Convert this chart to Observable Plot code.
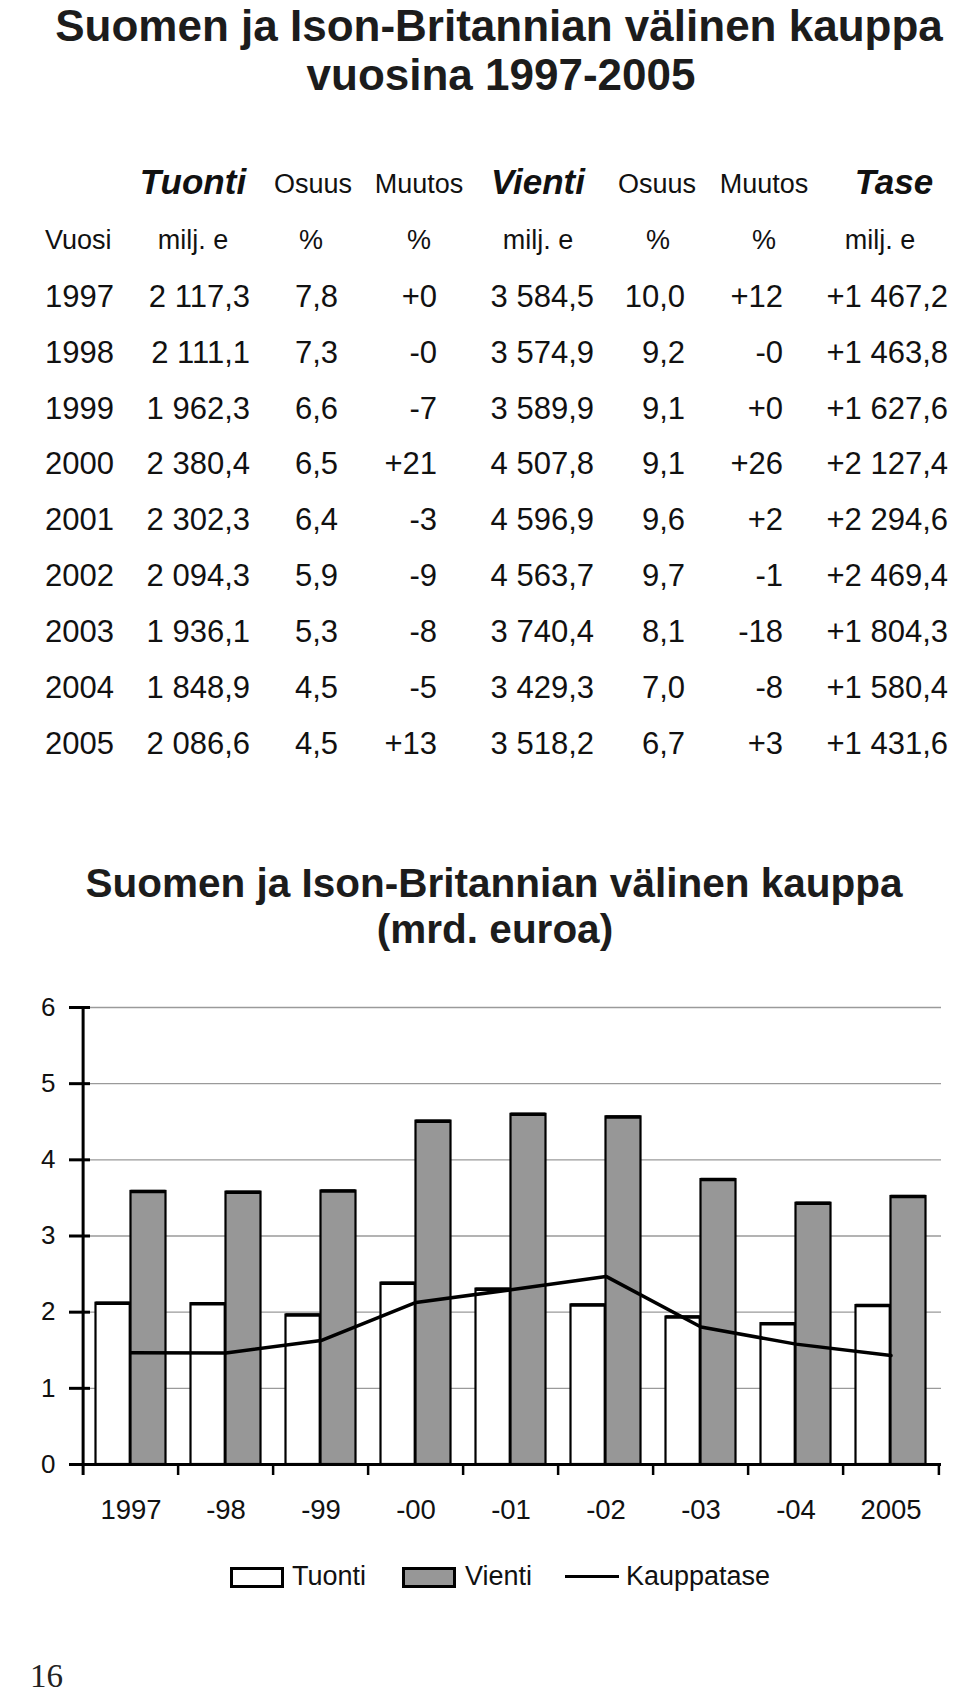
<!DOCTYPE html>
<html>
<head>
<meta charset="utf-8">
<script src="https://cdn.jsdelivr.net/npm/d3@7"></script>
<script src="https://cdn.jsdelivr.net/npm/@observablehq/plot@0.6"></script>
<style>
  html, body { margin: 0; padding: 0; background: #fff; }
  #page { position: relative; width: 960px; height: 1695px; overflow: hidden;
          font-family: "Liberation Sans", Arial, Helvetica, sans-serif; color: #111; }
  .t { position: absolute; white-space: nowrap; line-height: 1; }
  #chart { position: absolute; left: 0; top: 975px; }
  .box { position: absolute; box-sizing: border-box; border: 3px solid #000; }
</style>
</head>
<body>
<div id="page"></div>
<script>
// ---------- data ----------
const years = [1997, 1998, 1999, 2000, 2001, 2002, 2003, 2004, 2005];
const tuonti = [2117.3, 2111.1, 1962.3, 2380.4, 2302.3, 2094.3, 1936.1, 1848.9, 2086.6];
const tuontiOsuus = [7.8, 7.3, 6.6, 6.5, 6.4, 5.9, 5.3, 4.5, 4.5];
const tuontiMuutos = ["+0", "-0", "-7", "+21", "-3", "-9", "-8", "-5", "+13"];
const vienti = [3584.5, 3574.9, 3589.9, 4507.8, 4596.9, 4563.7, 3740.4, 3429.3, 3518.2];
const vientiOsuus = [10.0, 9.2, 9.1, 9.1, 9.6, 9.7, 8.1, 7.0, 6.7];
const vientiMuutos = ["+12", "-0", "+0", "+26", "+2", "-1", "-18", "-8", "+3"];
const tase = [1467.2, 1463.8, 1627.6, 2127.4, 2294.6, 2469.4, 1804.3, 1580.4, 1431.6];
const xTickLabels = ["1997", "-98", "-99", "-00", "-01", "-02", "-03", "-04", "2005"];
const yTicks = [0, 1, 2, 3, 4, 5, 6];
const gridTicks = [1, 2, 3, 4, 5, 6];

const mainTitle = ["Suomen ja Ison-Britannian välinen kauppa", "vuosina 1997-2005"];
const chartTitle = ["Suomen ja Ison-Britannian välinen kauppa", "(mrd. euroa)"];
const headerTop = ["Tuonti", "Osuus", "Muutos", "Vienti", "Osuus", "Muutos", "Tase"];
const headerUnits = ["Vuosi", "milj. e", "%", "%", "milj. e", "%", "%", "milj. e"];
const legendLabels = ["Tuonti", "Vienti", "Kauppatase"];
const pageNumber = "16";

// ---------- helpers ----------
const page = document.getElementById("page");
function put(text, x, base, o = {}) {
  const size = o.size || 31;
  const el = document.createElement("div");
  el.className = "t";
  el.textContent = text;
  el.style.fontSize = size + "px";
  const k = o.serif ? 0.8375 : 0.8465;
  el.style.top = (base - k * size) + "px";
  el.style.left = x + "px";
  const shift = o.anchor === "end" ? "-100%" : o.anchor === "middle" ? "-50%" : "0";
  el.style.transform = `translateX(${shift})`;
  if (o.weight) el.style.fontWeight = o.weight;
  if (o.italic) el.style.fontStyle = "italic";
  if (o.serif) el.style.fontFamily = '"Liberation Serif", "Times New Roman", serif';
  if (o.color) el.style.color = o.color;
  page.appendChild(el);
  return el;
}
function fi(v) {
  const [i, d] = Math.abs(v).toFixed(1).split(".");
  return (v < 0 ? "-" : "") + i.replace(/\B(?=(\d{3})+(?!\d))/g, " ") + "," + d;
}
const signed = v => (v >= 0 ? "+" : "-") + fi(Math.abs(v));

// ---------- main title ----------
put(mainTitle[0], 499, 41, {size: 44, weight: "bold", anchor: "middle", color: "#1c1c1c"});
put(mainTitle[1], 501, 90, {size: 44, weight: "bold", anchor: "middle", color: "#1c1c1c"});

// ---------- table ----------
const headCenters = [193, 313, 419, 538, 657, 764, 894];
headerTop.forEach((h, i) => {
  const bold = i === 0 || i === 3 || i === 6;
  put(h, headCenters[i], 194, bold ? {size: 35, weight: "bold", italic: true, anchor: "middle"}
                                    : {size: 27, anchor: "middle"});
});
const unitPos = [45, 193, 311, 419, 538, 658, 764, 880];
headerUnits.forEach((u, i) => put(u, unitPos[i], 250, {size: 27, anchor: i === 0 ? "start" : "middle"}));

const colRight = [250, 338, 437, 594, 685, 783, 948];
years.forEach((yr, r) => {
  const base = 307 + r * 55.9;
  put(String(yr), 45, base, {size: 31});
  const cells = [fi(tuonti[r]), fi(tuontiOsuus[r]), tuontiMuutos[r],
                 fi(vienti[r]), fi(vientiOsuus[r]), vientiMuutos[r], signed(tase[r])];
  cells.forEach((c, j) => put(c, colRight[j], base, {size: 31, anchor: "end"}));
});

// ---------- chart title ----------
put(chartTitle[0], 494, 897, {size: 40.5, weight: "bold", anchor: "middle", color: "#1c1c1c"});
put(chartTitle[1], 495, 943, {size: 40.5, weight: "bold", anchor: "middle", color: "#1c1c1c"});

// ---------- chart ----------
const rows = years.map((year, i) => ({
  year, tuonti: tuonti[i] / 1000, vienti: vienti[i] / 1000, kauppatase: tase[i] / 1000
}));
const W = 960, ML = 79, MR = 19, MT = 32, MB = 60, H = 549;
const bw = (W - ML - MR) / years.length;
const plotH = H - MT - MB;
const labelOf = new Map(years.map((y, i) => [y, xTickLabels[i]]));
const whiteIn = {insetLeft: 12.5, insetRight: bw - 47.5};
const grayIn = {insetLeft: 47.5, insetRight: 12.5};

const chart = Plot.plot({
  width: W, height: H,
  marginTop: MT, marginBottom: MB, marginLeft: ML, marginRight: MR,
  style: {fontFamily: '"Liberation Sans", Arial, sans-serif', color: "#111", background: "transparent", overflow: "visible"},
  x: {type: "band", domain: years, padding: 0, label: null},
  y: {domain: [0, 6], label: null},
  marks: [
    Plot.ruleY(gridTicks, {stroke: "#9a9a9a", strokeWidth: 1.3}),
    Plot.barY(rows, {x: "year", y: "tuonti", fill: "white", stroke: "#000", strokeWidth: 2.2, ...whiteIn}),
    Plot.barY(rows, {x: "year", y: "vienti", fill: "#979797", stroke: "#000", strokeWidth: 2.2, ...grayIn}),
    Plot.tickY(rows, {x: "year", y: "tuonti", stroke: "#000", strokeWidth: 3.5, ...whiteIn}),
    Plot.tickY(rows, {x: "year", y: "vienti", stroke: "#000", strokeWidth: 3.5, ...grayIn}),
    Plot.ruleY([0], {stroke: "#000", strokeWidth: 3}),
    Plot.ruleX([years[0]], {dx: -bw / 2, stroke: "#000", strokeWidth: 3, insetBottom: -11}),
    Plot.ruleX(years.slice(1), {dx: -bw / 2, stroke: "#000", strokeWidth: 2.5, insetTop: plotH, insetBottom: -11}),
    Plot.ruleX(years.slice(-1), {dx: bw / 2, stroke: "#000", strokeWidth: 2.5, insetTop: plotH, insetBottom: -11}),
    Plot.ruleY(yTicks, {stroke: "#000", strokeWidth: 3, insetLeft: -10, insetRight: W - ML - MR - 11}),
    Plot.lineY(rows, {x: "year", y: "kauppatase", stroke: "#000", strokeWidth: 3.5}),
    Plot.axisY(yTicks, {tickSize: 0, tickPadding: 24, fontSize: 26, tickFormat: d => String(d), label: null}),
    Plot.axisX(years, {tickSize: 0, tickPadding: 35, fontSize: 27.5, tickFormat: d => labelOf.get(d), label: null})
  ]
});
const holder = document.createElement("div");
holder.id = "chart";
holder.appendChild(chart);
page.appendChild(holder);

// ---------- legend ----------
function box(left, fill) {
  const b = document.createElement("div");
  b.className = "box";
  Object.assign(b.style, {left: left + "px", top: "1567px", width: "54px", height: "21px", background: fill});
  page.appendChild(b);
}
box(230, "#fff");
box(402, "#979797");
const ln = document.createElement("div");
Object.assign(ln.style, {position: "absolute", left: "565px", top: "1575px", width: "54px", height: "3px", background: "#000"});
page.appendChild(ln);
put(legendLabels[0], 292, 1586, {size: 27});
put(legendLabels[1], 465, 1586, {size: 27});
put(legendLabels[2], 626, 1586, {size: 27});

// ---------- page number ----------
put(pageNumber, 30, 1688, {size: 33, serif: true, color: "#222"});
</script>
</body>
</html>
